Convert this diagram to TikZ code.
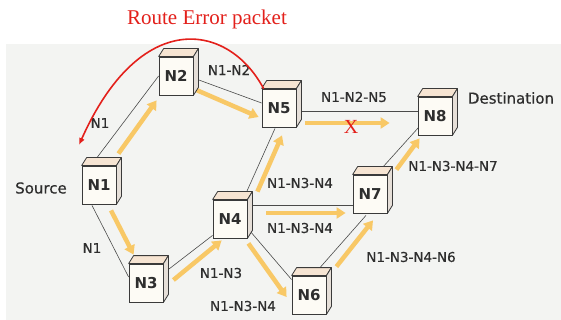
\documentclass[tikz,border=0pt]{standalone}
\usepackage{fontspec}
\setmainfont{DejaVu Sans}
\newfontfamily\labelfont[FakeBold=0.6]{DejaVu Sans}
\newfontfamily\redserif{Liberation Serif}
\usetikzlibrary{arrows.meta}
\pgfdeclarelayer{bg}
\pgfdeclarelayer{links}
\pgfsetlayers{bg,links,main}

\definecolor{panel}{HTML}{F3F4F2}
\definecolor{boxline}{HTML}{3A3A3A}
\definecolor{frontface}{HTML}{FDFBF5}
\definecolor{topface}{HTML}{F6E4D2}
\definecolor{sideface}{HTML}{E6DFD8}
\definecolor{linkgray}{HTML}{4A4A4A}
\definecolor{flow}{HTML}{F8C866}
\definecolor{errred}{HTML}{E3201B}
\definecolor{txt}{HTML}{2E2E2E}

\tikzset{
  host/.style={draw=boxline, line width=0.8pt, fill=frontface,
    minimum width=34pt, minimum height=38pt, inner sep=0pt,
    text=txt, font=\bfseries\fontsize{15}{15}\selectfont},
  link/.style={draw=linkgray, line width=0.6pt},
  flowarrow/.style={draw=flow, line width=4.5pt,
    -{Triangle[length=9pt,width=11pt]}},
  elabel/.style={text=txt, inner sep=0pt, font=\labelfont\fontsize{13.5}{14}\selectfont},
  rolelabel/.style={text=txt, inner sep=0pt, font=\labelfont\fontsize{15}{16}\selectfont},
}

\begin{document}
\begin{tikzpicture}[x=1pt,y=-1pt]
\useasboundingbox (0,0) rectangle (561,320);
\begin{pgfonlayer}{bg}
  \fill[white] (0,0) rectangle (561,320);
  \fill[panel] (6,44) rectangle (561,320);
\end{pgfonlayer}

% hosts
\node[host] (N1) at (99,185) {N1};
\node[host] (N2) at (176,76) {N2};
\node[host] (N5) at (279,108) {N5};
\node[host] (N8) at (435,116) {N8};
\node[host] (N7) at (370,194) {N7};
\node[host] (N4) at (230,219) {N4};
\node[host] (N3) at (146,283) {N3};
\node[host] (N6) at (309,295) {N6};

% top and side faces of each box
\foreach \n in {N1,N2,N3,N4,N5,N6,N7,N8}{
  \filldraw[fill=topface, draw=boxline, line width=0.8pt, line join=round]
    (\n.north west) -- ++(5,-8) -- ([shift={(5,-8)}]\n.north east)
    -- (\n.north east) -- cycle;
  \filldraw[fill=sideface, draw=boxline, line width=0.8pt, line join=round]
    (\n.north east) -- ([shift={(5,-8)}]\n.north east)
    -- ([shift={(5,-8)}]\n.south east) -- (\n.south east) -- cycle;
}

% links and route flows
\begin{pgfonlayer}{links}
  \draw[link] ([shift={(-2,-8)}]N1.north) -- (N2.west);
  \draw[link] ([shift={(0,2)}]N2.east) -- ([shift={(0,-5)}]N5.west);
  \draw[link] ([shift={(0,3)}]N5.east) -- ([shift={(0,-5)}]N8.west);
  \draw[link] ([shift={(-7,1)}]N1.south) -- ([shift={(0,-6)}]N3.west);
  \draw[link] ([shift={(3,-12)}]N3.east) -- ([shift={(0,-3)}]N4.south west);
  \draw[link] ([shift={(-2,-5)}]N4.north east) -- ([shift={(-4,1)}]N5.south);
  \draw[link] ([shift={(0,-14)}]N4.east) -- ([shift={(0,11)}]N7.west);
  \draw[link] ([shift={(0,9)}]N4.east) -- ([shift={(0,4)}]N6.north west);
  \draw[link] ([shift={(11,-8)}]N6.north) -- ([shift={(-4,2)}]N7.south);
  \draw[link] ([shift={(-5,-7)}]N7.north east) -- ([shift={(1,-8)}]N8.south west);

  \draw[flowarrow] ([shift={(2,-12)}]N1.north east) -- ([shift={(-2,5)}]N2.south west);
  \draw[flowarrow] ([shift={(3,14)}]N2.east) -- ([shift={(-3,9)}]N5.west);
  \draw[flowarrow] ([shift={(9,15)}]N5.east) -- ([shift={(-28,7)}]N8.west);
  \draw[flowarrow] ([shift={(12,6)}]N1.south) -- ([shift={(5,-9)}]N3.north west);
  \draw[flowarrow] ([shift={(10,-3)}]N3.east) -- ([shift={(9,2)}]N4.south west);
  \draw[flowarrow] ([shift={(10,-8)}]N4.north east) -- ([shift={(3,8)}]N5.south);
  \draw[flowarrow] ([shift={(19,-6)}]N4.east) -- ([shift={(-7,19)}]N7.west);
  \draw[flowarrow] ([shift={(1,5)}]N4.south east) -- ([shift={(-5,2)}]N6.west);
  \draw[flowarrow] ([shift={(10,-9)}]N6.north east) -- ([shift={(3,7)}]N7.south);
  \draw[flowarrow] ([shift={(9,-5)}]N7.north east) -- ([shift={(2,3)}]N8.south west);
\end{pgfonlayer}

% route labels
\node[elabel] (r1) at (100,123) {N1};
\node[elabel] (r2) at (229,70) {N1-N2};
\node[elabel] (r3) at (354,97) {N1-N2-N5};
\node[elabel] (r4) at (300,183) {N1-N3-N4};
\node[elabel] (r5) at (453,166) {N1-N3-N4-N7};
\node[elabel] (r6) at (300,228) {N1-N3-N4};
\node[elabel] (r7) at (92,248) {N1};
\node[elabel] (r8) at (221,273) {N1-N3};
\node[elabel] (r9) at (411,257) {N1-N3-N4-N6};
\node[elabel] (r10) at (243,306) {N1-N3-N4};

\node[rolelabel] (src) at (41,188) {Source};
\node[rolelabel] (dst) at (511,98) {Destination};

% broken link mark and route error
\node[text=errred, inner sep=0pt, font=\redserif\fontsize{20}{20}\selectfont] (brk) at (351,127) {X};
\node[text=errred, inner sep=0pt, anchor=base, font=\redserif\fontsize{21}{22}\selectfont] (rerr) at (207,25) {Route Error packet};
\coordinate (errtip) at (79,145);
\draw[errred, line width=1.6pt, -{Latex[length=7pt,width=6pt]}]
  ([shift={(2,0)}]N5.north west) .. controls (228,22) and (140,8) .. (errtip);
\end{tikzpicture}
\end{document}
